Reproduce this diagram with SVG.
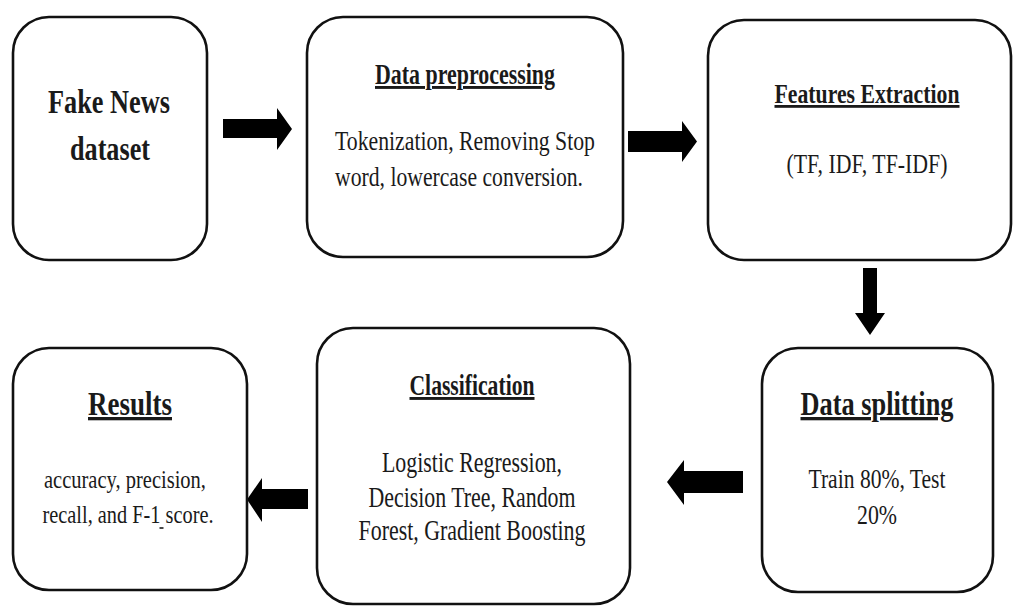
<svg xmlns="http://www.w3.org/2000/svg" width="1014" height="607" viewBox="0 0 1014 607">
<style>
.box{fill:#fff;stroke:#111;stroke-width:2.6}
.arr{fill:#000}
text{font-family:"Liberation Serif","Times New Roman",serif;fill:#1a1a1a}
.t{font-weight:bold;text-anchor:middle}
.u{text-decoration:underline}
.b{text-anchor:middle}
</style>
<rect width="1014" height="607" fill="#fff"/>
<g id="connectors">
<polygon class="arr" points="223,119 277,119 277,108 292,129 277,150 277,138 223,138"/>
<polygon class="arr" points="628,131 682,131 682,121 697,141.5 682,162 682,152 628,152"/>
<polygon class="arr" points="863,268 877,268 877,313 885,313 870,335 855,313 863,313"/>
<polygon class="arr" points="743,471 684,471 684,460 667,482 684,505 684,493 743,493"/>
<polygon class="arr" points="308,489 262,489 262,478 247,499.5 262,522 262,509 308,509"/>
</g>
<g id="node-dataset">
<rect class="box" x="13" y="17" width="194" height="243" rx="36"/>
<text class="t" x="109" y="113" font-size="33" textLength="122" lengthAdjust="spacingAndGlyphs">Fake News</text>
<text class="t" x="110" y="160" font-size="33" textLength="80" lengthAdjust="spacingAndGlyphs">dataset</text>
</g>
<g id="node-preprocessing">
<rect class="box" x="307" y="17" width="316" height="240" rx="36"/>
<text class="t u" x="465" y="84" font-size="29" textLength="180" lengthAdjust="spacingAndGlyphs">Data preprocessing</text>
<text x="335" y="150" font-size="28" textLength="260" lengthAdjust="spacingAndGlyphs">Tokenization, Removing Stop</text>
<text x="335" y="186" font-size="28" textLength="248" lengthAdjust="spacingAndGlyphs">word, lowercase conversion.</text>
</g>
<g id="node-features">
<rect class="box" x="708" y="20" width="303" height="240" rx="36"/>
<text class="t u" x="867" y="103" font-size="28" textLength="185" lengthAdjust="spacingAndGlyphs">Features Extraction</text>
<text class="b" x="867" y="173" font-size="28" textLength="161" lengthAdjust="spacingAndGlyphs">(TF, IDF, TF-IDF)</text>
</g>
<g id="node-splitting">
<rect class="box" x="762" y="348" width="231" height="244" rx="36"/>
<text class="t u" x="877" y="415" font-size="33" textLength="153" lengthAdjust="spacingAndGlyphs">Data splitting</text>
<text class="b" x="877" y="488" font-size="28" textLength="137" lengthAdjust="spacingAndGlyphs">Train 80%, Test</text>
<text class="b" x="877" y="524" font-size="28" textLength="40" lengthAdjust="spacingAndGlyphs">20%</text>
</g>
<g id="node-classification">
<rect class="box" x="317" y="328" width="313" height="276" rx="36"/>
<text class="t u" x="472" y="395" font-size="29" textLength="125" lengthAdjust="spacingAndGlyphs">Classification</text>
<text class="b" x="472" y="472" font-size="29" textLength="180" lengthAdjust="spacingAndGlyphs">Logistic Regression,</text>
<text class="b" x="472" y="507" font-size="29" textLength="207" lengthAdjust="spacingAndGlyphs">Decision Tree, Random</text>
<text class="b" x="472" y="540" font-size="29" textLength="227" lengthAdjust="spacingAndGlyphs">Forest, Gradient Boosting</text>
</g>
<g id="node-results">
<rect class="box" x="13" y="348" width="234" height="242" rx="36"/>
<text class="t u" x="130" y="415" font-size="33" textLength="84" lengthAdjust="spacingAndGlyphs">Results</text>
<text class="b" x="125" y="488" font-size="25" textLength="162" lengthAdjust="spacingAndGlyphs">accuracy, precision,</text>
<text class="b" x="128" y="523" font-size="25" textLength="171" lengthAdjust="spacingAndGlyphs">recall, and F-1 score.</text>
<line x1="159.5" y1="528" x2="163.5" y2="528" stroke="#1a1a1a" stroke-width="1.6"/>
</g>
</svg>
